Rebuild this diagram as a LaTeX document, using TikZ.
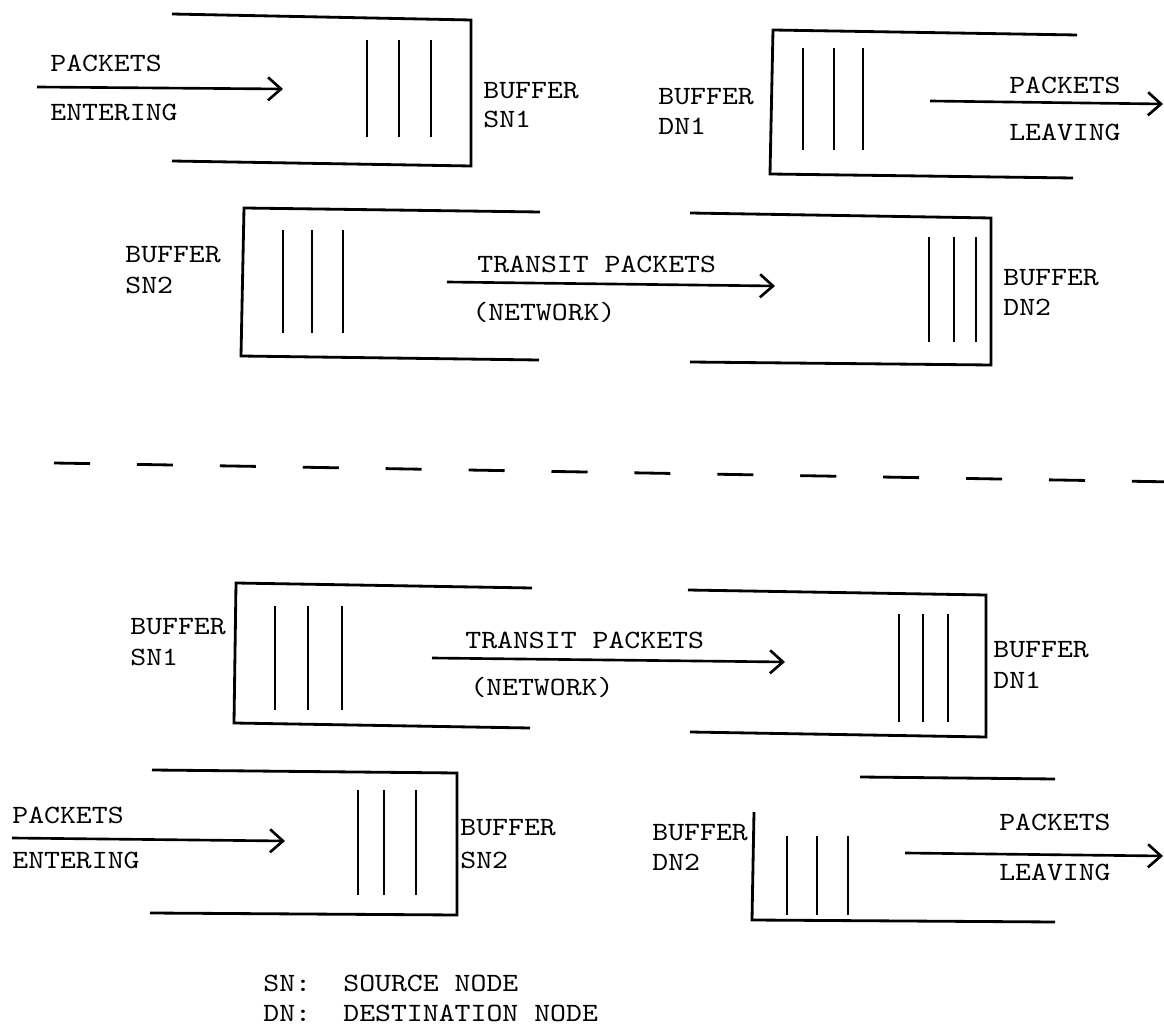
\documentclass[tikz,border=0pt]{standalone}
\usepackage{fontspec}
\newfontfamily\typewriter{lmmono10-regular}[Extension=.otf,FakeStretch=1.15]
\usetikzlibrary{arrows.meta}
\begin{document}
\begin{tikzpicture}[x=0.02cm,y=-0.02cm,
  wall/.style={line width=1.6pt,line join=miter},
  bar/.style={line width=1.1pt},
  flow/.style={line width=1.5pt,-{Straight Barb[length=0.26cm,width=0.46cm,line width=1.5pt]}},
  lbl/.style={font=\typewriter\fontsize{15}{18}\selectfont,inner sep=0pt,anchor=base west},
  rlbl/.style={lbl,anchor=base east},
  sep/.style={line width=1.6pt,dash pattern=on 20.5pt off 26.7pt}]
\useasboundingbox (0,0) rectangle (1164,1030);

% ---------- upper scheme ----------
% source buffer SN1 (open on the left)
\draw[wall] (172,14) -- (471,20) -- (471,166) -- (172,161);
\foreach \x in {367,399,431} \draw[bar] (\x,40) -- (\x,137);
\node[lbl] (pe1) at (50,72) {PACKETS};
\node[lbl] (en1) at (50,121) {ENTERING};
\node[lbl] (bsn1) at (483,99) {BUFFER};
\node[lbl] (sn1) at (483,128) {SN1};
\coordinate (in1s) at (37,87);
\coordinate (in1e) at (283,89);
\draw[flow] (in1s) -- (in1e);

% destination buffer DN1 (open on the right)
\draw[wall] (1077,35) -- (773,30) -- (770,174) -- (1073,178);
\foreach \x in {803,834,863} \draw[bar] (\x,48) -- (\x,150);
\node[lbl] (bdn1) at (658,105) {BUFFER};
\node[lbl] (dn1) at (658,135) {DN1};
\node[rlbl] (pl1) at (1121,94) {PACKETS};
\node[rlbl] (lv1) at (1121,141) {LEAVING};
\coordinate (out1s) at (930,101);
\coordinate (out1e) at (1163,104);
\draw[flow] (out1s) -- (out1e);

% source buffer SN2 (open on the right)
\draw[wall] (540,212) -- (244,208) -- (241,356) -- (539,360);
\foreach \x in {283,312,343} \draw[bar] (\x,230) -- (\x,333);
\node[lbl] (bsn2) at (125,263) {BUFFER};
\node[lbl] (sn2) at (125,294) {SN2};

% destination buffer DN2 (open on the left)
\draw[wall] (690,213) -- (991,218) -- (991,365) -- (690,362);
\foreach \x in {929,954,976} \draw[bar] (\x,237) -- (\x,342);
\node[lbl] (bdn2) at (1003,286) {BUFFER};
\node[lbl] (dn2) at (1003,316) {DN2};

\node[lbl] (tp1) at (477,273) {TRANSIT PACKETS};
\node[lbl] (nw1) at (472,321) {(NETWORK)};
\coordinate (tr1s) at (447,282);
\coordinate (tr1e) at (775,286);
\draw[flow] (tr1s) -- (tr1e);

% ---------- separator ----------
\coordinate (sepl) at (54,463);
\coordinate (sepr) at (1176,482);
\draw[sep] (sepl) -- (sepr);

% ---------- lower scheme ----------
% source buffer SN1 (open on the right)
\draw[wall] (532,588) -- (236,583) -- (234,723) -- (530,728);
\foreach \x in {275,308,342} \draw[bar] (\x,606) -- (\x,710);
\node[lbl] (bsn1b) at (130,635) {BUFFER};
\node[lbl] (sn1b) at (130,665) {SN1};

% destination buffer DN1 (open on the left)
\draw[wall] (688,590) -- (986,595) -- (986,737) -- (690,732);
\foreach \x in {899,923,948} \draw[bar] (\x,614) -- (\x,722);
\node[lbl] (bdn1b) at (993,658) {BUFFER};
\node[lbl] (dn1b) at (993,688) {DN1};

\node[lbl] (tp2) at (465,648) {TRANSIT PACKETS};
\node[lbl] (nw2) at (470,696) {(NETWORK)};
\coordinate (tr2s) at (432,658);
\coordinate (tr2e) at (785,662);
\draw[flow] (tr2s) -- (tr2e);

% source buffer SN2 (open on the left)
\draw[wall] (152,770) -- (457,773) -- (457,915) -- (150,913);
\foreach \x in {358,384,416} \draw[bar] (\x,790) -- (\x,895);
\node[lbl] (pe2) at (12,823) {PACKETS};
\node[lbl] (en2) at (12,868) {ENTERING};
\node[lbl] (bsn2b) at (460,835) {BUFFER};
\node[lbl] (sn2b) at (460,868) {SN2};
\coordinate (in2s) at (12,838);
\coordinate (in2e) at (285,841);
\draw[flow] (in2s) -- (in2e);

% destination buffer DN2 (open on the right, faded top corner)
\draw[wall] (860,777) -- (1055,779);
\draw[wall] (754,812) -- (752,920) -- (1055,922);
\foreach \x in {787,817,848} \draw[bar] (\x,836) -- (\x,915);
\node[lbl] (bdn2b) at (652,840) {BUFFER};
\node[lbl] (dn2b) at (652,870) {DN2};
\node[rlbl] (pl2) at (1111,830) {PACKETS};
\node[rlbl] (lv2) at (1111,880) {LEAVING};
\coordinate (out2s) at (905,853);
\coordinate (out2e) at (1163,856);
\draw[flow] (out2s) -- (out2e);

% ---------- legend ----------
\node[lbl] (ksn) at (263,991) {SN:};
\node[lbl] (vsn) at (343,991) {SOURCE NODE};
\node[lbl] (kdn) at (263,1021) {DN:};
\node[lbl] (vdn) at (343,1021) {DESTINATION NODE};
\end{tikzpicture}
\end{document}
